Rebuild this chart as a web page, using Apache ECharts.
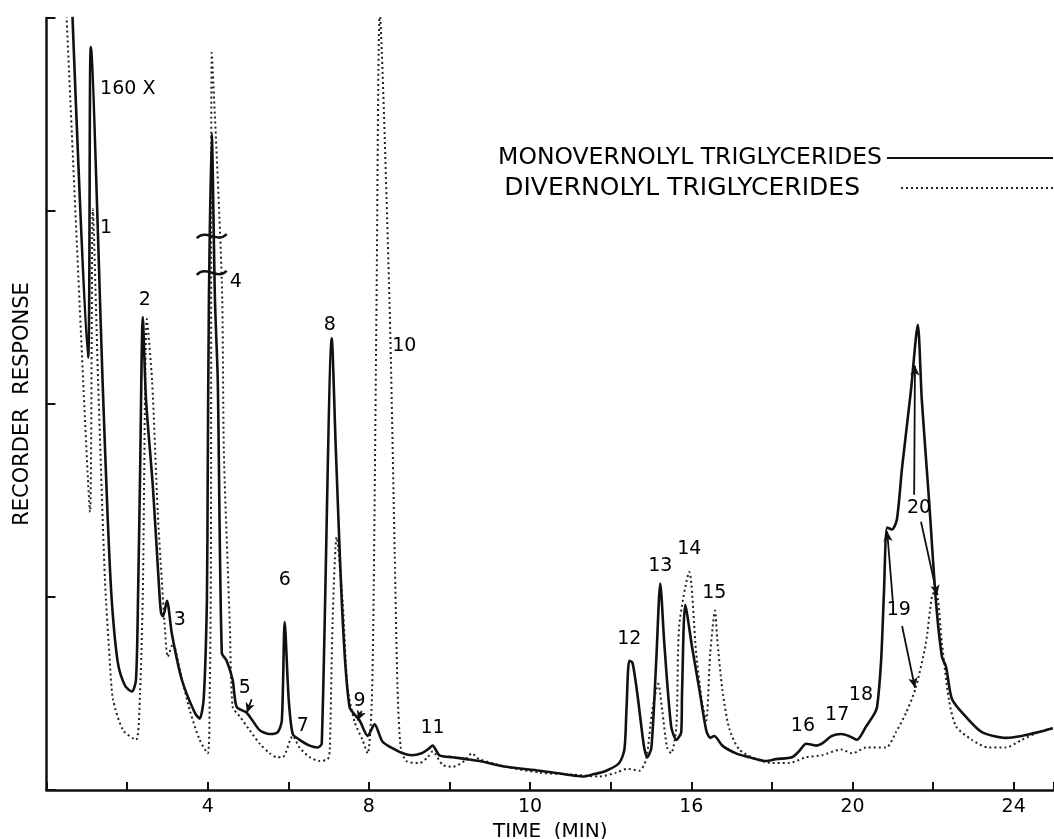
<!DOCTYPE html>
<html>
<head>
<meta charset="utf-8">
<script src="https://cdn.jsdelivr.net/npm/echarts@6/dist/echarts.min.js"></script>
<style>
  html, body { margin: 0; padding: 0; background: #fff; }
  #main { width: 1054px; height: 839px; }
</style>
</head>
<body>
<div id="main"></div>
<script>
// retention time (min) and recorder response
var monoTime = [0.63, 1.03, 1.10, 1.40, 1.52, 1.62, 1.77, 1.95, 2.12, 2.22, 2.27, 2.32, 2.39, 2.47, 2.64, 2.79,
  2.84, 2.89, 2.99, 3.11, 3.36, 3.68, 3.80, 3.90, 3.98, 4.00, 4.03, 4.10, 4.18, 4.25, 4.35, 4.47, 4.62, 4.72,
  4.97, 5.29, 5.54, 5.74, 5.84, 5.91, 6.01, 6.11, 6.28, 6.53, 6.73, 6.83, 7.08, 7.18, 7.35, 7.52, 7.77, 7.97,
  8.14, 8.34, 8.64, 8.84, 9.06, 9.31, 9.46, 9.58, 9.75, 10.07, 10.42, 10.74, 11.41, 12.23, 12.90, 13.30, 13.54,
  13.89, 14.21, 14.34, 14.39, 14.46, 14.54, 14.66, 14.83, 14.91, 15.01, 15.13, 15.23, 15.33, 15.50, 15.63, 15.75,
  15.77, 15.85, 16.02, 16.20, 16.37, 16.47, 16.57, 16.77, 17.11, 17.44, 17.86, 18.10, 18.50, 18.67, 18.85, 19.10,
  19.24, 19.49, 19.72, 19.91, 20.11, 20.34, 20.53, 20.61, 20.71, 20.78, 20.86, 20.98, 21.10, 21.23, 21.45, 21.62,
  21.72, 21.90, 22.07, 22.22, 22.32, 22.47, 22.81, 23.21, 23.80, 24.20, 24.62, 24.97];
var monoResp = [4.09, 2.24, 3.85, 2.07, 1.40, 0.98, 0.66, 0.54, 0.51, 0.57, 0.98, 1.61, 2.45, 2.02, 1.57, 1.06,
  0.92, 0.90, 0.98, 0.81, 0.57, 0.40, 0.37, 0.47, 0.98, 1.61, 2.54, 3.40, 2.54, 2.12, 0.71, 0.67, 0.57, 0.43,
  0.40, 0.31, 0.29, 0.30, 0.36, 0.87, 0.47, 0.29, 0.26, 0.23, 0.22, 0.24, 2.34, 1.76, 0.88, 0.43, 0.36, 0.28,
  0.34, 0.25, 0.21, 0.19, 0.18, 0.19, 0.21, 0.23, 0.18, 0.17, 0.16, 0.15, 0.12, 0.10, 0.08, 0.07, 0.08,
  0.10, 0.14, 0.21, 0.41, 0.67, 0.66, 0.50, 0.22, 0.17, 0.22, 0.67, 1.07, 0.76, 0.33, 0.26, 0.30,
  0.50, 0.96, 0.74, 0.52, 0.31, 0.27, 0.28, 0.23, 0.19, 0.17, 0.15, 0.16, 0.17, 0.20, 0.24, 0.23,
  0.24, 0.28, 0.29, 0.28, 0.26, 0.33, 0.39, 0.43, 0.67, 1.02, 1.36, 1.35, 1.40, 1.67, 2.07, 2.41,
  2.02, 1.50, 0.98, 0.69, 0.64, 0.47, 0.38, 0.30, 0.27, 0.28, 0.30, 0.32];

var diTime = [0.48, 0.91, 1.08, 1.15, 1.28, 1.45, 1.57, 1.65, 1.90, 2.22, 2.32, 2.39, 2.49, 2.62, 2.76, 2.86,
  2.94, 3.01, 3.14, 3.31, 3.56, 3.80, 4.00, 4.05, 4.08, 4.10, 4.35, 4.40, 4.50, 4.55, 4.62, 4.80, 5.04,
  5.29, 5.54, 5.71, 5.86, 6.11, 6.28, 6.53, 6.78, 6.98, 7.03, 7.10, 7.20, 7.35, 7.47, 7.65, 7.84, 7.97, 8.07,
  8.12, 8.19, 8.27, 8.51, 8.64, 8.71, 8.79, 8.93, 9.26, 9.46, 9.58, 9.83, 10.07, 10.37, 10.55, 10.74, 11.41,
  12.23, 13.05, 13.72, 14.14, 14.41, 14.71, 14.88, 15.03, 15.18, 15.28, 15.40, 15.50, 15.63, 15.70, 15.95,
  16.12, 16.27, 16.37, 16.47, 16.59, 16.64, 16.77, 16.94, 17.19, 17.61, 18.01, 18.43, 18.85, 19.24, 19.72,
  19.99, 20.34, 20.83, 21.08, 21.33, 21.57, 21.82, 21.97, 22.07, 22.22, 22.39, 22.57, 22.96, 23.38, 23.80,
  24.20, 24.62, 24.97];
var diResp = [4.09, 2.12, 1.44, 3.01, 2.12, 1.09, 0.67, 0.47, 0.31, 0.26, 0.50, 1.02, 2.44, 2.12, 1.44, 1.09,
  0.83, 0.69, 0.76, 0.62, 0.41, 0.26, 0.19, 0.50, 1.19, 3.82, 2.64, 1.76, 1.14, 0.85, 0.43, 0.38, 0.31,
  0.24, 0.19, 0.17, 0.17, 0.28, 0.22, 0.17, 0.15, 0.16, 0.21, 0.88, 1.31, 0.97, 0.53, 0.35, 0.26, 0.19, 0.45,
  1.05, 2.54, 4.02, 2.54, 1.23, 0.53, 0.22, 0.15, 0.14, 0.17, 0.20, 0.13, 0.12, 0.15, 0.19, 0.16, 0.12,
  0.09, 0.08, 0.07, 0.09, 0.11, 0.10, 0.16, 0.41, 0.55, 0.41, 0.22, 0.19, 0.33, 0.85, 1.13,
  0.71, 0.45, 0.36, 0.71, 0.93, 0.79, 0.52, 0.32, 0.21, 0.16, 0.14, 0.14, 0.17, 0.18, 0.21,
  0.19, 0.22, 0.22, 0.30, 0.40, 0.53, 0.76, 1.00, 1.04, 0.76, 0.47, 0.33, 0.26, 0.22, 0.22,
  0.26, 0.30, 0.32];

// x tick labels as printed on the chart
var xTickLabels = { 4: '4', 8: '8', 12: '10', 16: '16', 20: '20', 24: '24' };

// peak numbers and where they sit
var peakNames = ['160 X', '1', '2', '3', '4', '5', '6', '7', '8', '9', '10', '11', '12', '13', '14', '15', '16', '17', '18', '19', '20'];
var peakNameTime = [1.33, 1.48, 2.44, 3.31, 4.70, 4.92, 5.91, 6.36, 7.03, 7.77, 8.88, 9.58, 14.46, 15.23, 15.95, 16.57, 18.77, 19.62, 20.21, 21.15, 21.65];
var peakNameResp = [3.63, 2.91, 2.54, 0.88, 2.63, 0.53, 1.09, 0.33, 2.41, 0.46, 2.30, 0.32, 0.78, 1.16, 1.25, 1.02, 0.33, 0.39, 0.49, 0.93, 1.46];

// pointer arrows: [fromTime, fromResp, toTime, toResp]
var arrows = [
  [5.09, 0.47, 4.97, 0.40],
  [7.82, 0.41, 7.72, 0.36],
  [21.00, 0.98, 20.86, 1.34],
  [21.23, 0.85, 21.55, 0.53],
  [21.53, 1.53, 21.55, 2.20],
  [21.70, 1.39, 22.10, 1.01]
];

function zip(a, b) { return a.map(function (v, i) { return [v, b[i]]; }); }

var FONT = 'DejaVu Sans';
var chart = echarts.init(document.getElementById('main'), null, { renderer: 'canvas' });

var legendBase = {
  orient: 'vertical',
  right: 0,
  padding: 0,
  align: 'right',
  itemHeight: 14,
  itemStyle: { opacity: 0 },
  textStyle: { fontFamily: FONT, fontSize: 23.5, color: '#000', lineHeight: 28 }
};

var option = {
  backgroundColor: '#fff',
  animation: false,
  grid: { left: 46.5, right: 0, top: 18, bottom: 49, containLabel: false, outerBoundsMode: 'none' },
  legend: [
    Object.assign({}, legendBase, {
      top: 144, itemWidth: 166,
      data: ['MONOVERNOLYL TRIGLYCERIDES']
    }),
    Object.assign({}, legendBase, {
      top: 174, itemWidth: 152,
      textStyle: Object.assign({}, legendBase.textStyle, { fontSize: 25, padding: [0, 36, 0, 0] }),
      data: ['DIVERNOLYL TRIGLYCERIDES']
    })
  ],
  xAxis: {
    type: 'value',
    min: 0, max: 25, interval: 2,
    name: 'TIME  (MIN)',
    nameLocation: 'middle',
    nameGap: 29,
    nameTextStyle: { fontFamily: FONT, fontSize: 20, color: '#000' },
    axisLine: { lineStyle: { color: '#111', width: 2.5 } },
    axisTick: { inside: true, length: 8, lineStyle: { width: 2, color: '#111' } },
    axisLabel: {
      fontFamily: FONT, fontSize: 19, color: '#000', margin: 8,
      formatter: function (v) { return xTickLabels[v] || ''; }
    },
    splitLine: { show: false }
  },
  yAxis: {
    type: 'value',
    min: 0, max: 4, interval: 1,
    name: 'RECORDER  RESPONSE',
    nameLocation: 'middle',
    nameGap: 13,
    nameTextStyle: { fontFamily: FONT, fontSize: 21, color: '#000' },
    axisLine: { show: true, lineStyle: { color: '#111', width: 2.5 } },
    axisTick: { show: true, inside: true, length: 9, lineStyle: { width: 2, color: '#111' } },
    axisLabel: { show: false },
    splitLine: { show: false }
  },
  series: [
    {
      name: 'MONOVERNOLYL TRIGLYCERIDES',
      type: 'line',
      data: zip(monoTime, monoResp),
      symbol: 'none',
      smooth: 0.25,
      lineStyle: { color: '#111', width: 2.6, join: 'round' },
      itemStyle: { color: '#111' },
      z: 3
    },
    {
      name: 'DIVERNOLYL TRIGLYCERIDES',
      type: 'line',
      data: zip(diTime, diResp),
      symbol: 'none',
      smooth: 0.25,
      lineStyle: { color: '#222', width: 2, type: [2, 3] },
      itemStyle: { color: '#222' },
      z: 2
    },
    {
      name: 'arrows',
      type: 'line',
      data: [],
      markLine: {
        silent: true,
        symbol: ['none', 'arrow'],
        symbolSize: [7, 10],
        label: { show: false },
        lineStyle: { color: '#111', width: 1.8, type: 'solid' },
        data: arrows.map(function (a) {
          return [{ coord: [a[0], a[1]] }, { coord: [a[2], a[3]] }];
        })
      }
    }
  ]
};

chart.setOption(option);

function px(t, v) { return chart.convertToPixel({ gridIndex: 0 }, [t, v]); }

// break marks across peak 4
function breakMark(t, v) {
  var p = px(t, v);
  return {
    type: 'bezierCurve',
    shape: { x1: p[0] - 15, y1: p[1] + 2, x2: p[0] + 15, y2: p[1] - 2,
      cpx1: p[0] - 5, cpy1: p[1] - 8, cpx2: p[0] + 5, cpy2: p[1] + 8 },
    style: { stroke: '#111', lineWidth: 2.5, fill: null },
    z: 10
  };
}

// peak numbers
var peakText = peakNames.map(function (n, i) {
  var p = px(peakNameTime[i], peakNameResp[i]);
  return {
    type: 'text', x: p[0], y: p[1], z: 20, silent: true,
    style: {
      text: n, fill: '#000', font: '19px "DejaVu Sans"',
      align: n === '160 X' ? 'left' : 'center', verticalAlign: 'middle'
    }
  };
});

chart.setOption({ graphic: [breakMark(4.10, 2.87), breakMark(4.10, 2.68)].concat(peakText) });
</script>
</body>
</html>
